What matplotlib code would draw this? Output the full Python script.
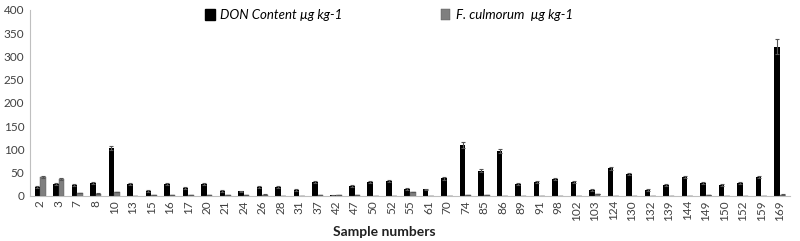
import numpy as np
import matplotlib.pyplot as plt
import matplotlib.patches as mpatches

plt.rcParams['font.family'] = ['Lato', 'DejaVu Sans']

# sample ids along the x axis
samples = ['2', '3', '7', '8', '10', '13', '15', '16', '17', '20', '21', '24', '26', '28',
           '31', '37', '42', '47', '50', '52', '55', '61', '70', '74', '85', '86', '89', '91',
           '98', '102', '103', '124', '130', '132', '139', '144', '149', '150', '152', '159', '169']

# DON content (black bars)
don = [19, 26, 23, 27, 103, 25, 11, 25, 17, 26, 11, 10, 19, 19,
       13, 30, 1, 22, 30, 33, 15, 14, 38, 110, 54, 96, 26, 30,
       36, 30, 13, 59, 47, 13, 23, 41, 28, 23, 28, 41, 321]
don_err = [2, 2, 2, 2, 4, 2, 1.5, 2, 1.5, 2, 1.5, 1.5, 2, 1.5,
           1.5, 2, 0.5, 2, 2, 2, 1.5, 1.5, 3, 6, 3, 4, 1.5, 2,
           2, 2, 1.5, 3, 2, 1.5, 2, 2, 2, 2, 2, 2, 16]

# F. culmorum (grey bars)
fcul = [41, 36, 6, 5, 8, 0.5, 1, 1, 1, 1, 1, 1, 3, 0.3,
        0.3, 1, 1.5, 1, 0.3, 0.3, 8, 0.3, 0.3, 1, 1, 0.3, 0.3, 0.3,
        0.3, 0.3, 3.5, 0.3, 0.3, 0.3, 0.3, 0.3, 1, 0.3, 0.3, 0.3, 3]
fcul_err = [1.5, 1.5, 0.5, 0.5, 0.5, 0, 0, 0, 0, 0, 0, 0, 0.3, 0,
            0, 0, 0, 0, 0, 0, 0.5, 0, 0, 0, 0, 0, 0, 0,
            0, 0, 0.3, 0, 0, 0, 0, 0, 0, 0, 0, 0, 0.3]

x = np.arange(len(samples))
w = 0.3

fig = plt.figure(figsize=(8, 2.41), dpi=100)
ax = fig.add_axes([0.0375, 0.187, 0.95, 0.772])

ax.bar(x - w / 2, don, w, color='black', yerr=don_err,
       error_kw=dict(ecolor='#555555', elinewidth=0.8, capsize=1.5, capthick=0.8))
ax.bar(x + w / 2, fcul, w, color='#7f7f7f', edgecolor='#555555', linewidth=0.3, yerr=fcul_err,
       error_kw=dict(ecolor='#555555', elinewidth=0.8, capsize=1.5, capthick=0.8))

ax.set_xlim(-0.55, len(samples) - 0.45)
ax.set_ylim(0, 400)
ax.set_yticks(range(0, 401, 50))
ax.set_xticks(x)
ax.set_xticklabels(samples, rotation=90, fontsize=8.5, color='#404040')
ax.tick_params(axis='y', labelsize=8.5, colors='#404040', length=0, pad=4)
ax.tick_params(axis='x', length=0, pad=3)

for s in ['top', 'right']:
    ax.spines[s].set_visible(False)
ax.spines['left'].set_color('#bfbfbf')
ax.spines['bottom'].set_color('#bfbfbf')
ax.spines['left'].set_linewidth(0.8)
ax.spines['bottom'].set_linewidth(0.8)

fig.text(0.481, 0.02, 'Sample numbers', fontsize=10, fontweight='bold', ha='center', color='#202020')

h1 = mpatches.Patch(color='black')
h2 = mpatches.Patch(facecolor='#7f7f7f', edgecolor='#555555', linewidth=0.3)
fig.legend([h1, h2], ['DON Content µg kg-1', 'F. culmorum  µg kg-1'],
           loc='upper left', bbox_to_anchor=(0.242, 1.01), ncol=2, frameon=False,
           prop=dict(style='italic', size=9.5), handlelength=0.7, handleheight=0.9,
           handletextpad=0.4, columnspacing=7.5)

plt.savefig('out.png', dpi=100)
